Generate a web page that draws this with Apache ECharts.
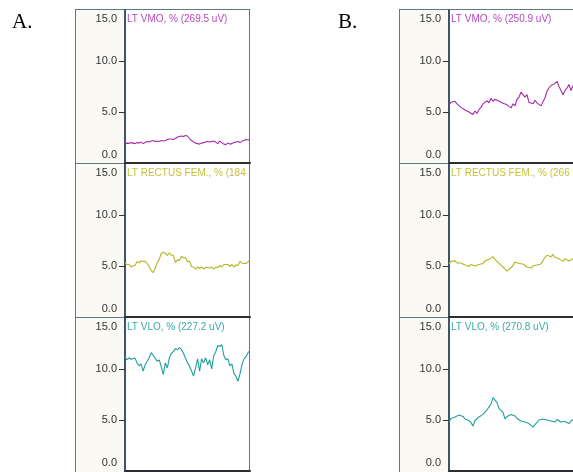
<!DOCTYPE html>
<html>
<head>
<meta charset="utf-8">
<script src="https://cdn.jsdelivr.net/npm/echarts@6/dist/echarts.min.js"></script>
<style>
html,body{margin:0;padding:0;background:#fff;}
#chart{width:573px;height:472px;}
</style>
</head>
<body>
<div id="chart"></div>
<script>
// ---- data (percent of reference) ----
var panelLabels = ['A.', 'B.'];
var yTicks = [0, 5, 10, 15];
var titlesA = ['LT VMO, % (269.5 uV)', 'LT RECTUS FEM., % (184', 'LT VLO, % (227.2 uV)'];
var titlesB = ['LT VMO, % (250.9 uV)', 'LT RECTUS FEM., % (266', 'LT VLO, % (270.8 uV)'];

var a_vmo = [1.9,1.95,1.92,2.0,1.95,1.9,2.0,1.95,2.05,1.9,
  2.0,2.1,2.05,2.15,2.2,2.1,2.15,2.1,2.2,2.15,
  2.2,2.3,2.35,2.35,2.3,2.4,2.55,2.6,2.65,2.6,
  2.7,2.65,2.4,2.2,2.05,1.95,1.9,1.85,1.95,2.0,
  2.05,2.1,2.05,2.1,2.15,2.05,1.9,2.15,2.0,1.85,
  1.8,1.95,1.85,1.9,2.0,2.05,2.1,2.0,2.15,2.2,
  2.3,2.25,2.3];
var a_rf = [5.3,5.15,5.15,4.9,5.05,5.05,5.45,5.3,5.5,5.45,
  5.45,5.25,4.95,4.55,4.35,4.75,5.35,5.65,6.25,6.35,
  6.25,6.05,6.3,6.05,6.05,5.35,5.6,5.55,5.95,5.8,
  5.8,5.45,5.45,4.95,4.9,4.7,4.9,4.75,4.9,4.7,
  4.85,4.85,4.8,4.9,4.7,4.9,4.85,5.05,4.9,5.15,
  5.15,5.15,4.95,5.15,4.9,5.1,5.05,5.45,5.3,5.25,
  5.25,5.4,5.6];
var a_vlo = [11.2,10.9,11.1,10.95,11.0,11.05,10.6,10.3,10.5,9.8,
  10.4,10.75,11.1,11.6,11.35,11.05,10.75,10.9,10.2,9.45,
  10.6,10.1,11.1,11.55,11.7,12.0,11.9,12.1,11.9,11.55,
  11.05,10.6,10.3,9.8,9.3,10.1,11.0,9.8,11.0,10.6,
  11.1,10.4,10.9,10.0,11.3,11.7,12.3,12.2,12.4,11.35,
  10.9,11.0,10.3,10.5,9.6,9.3,8.8,9.5,10.4,11.0,
  11.2,11.6,11.8];
var b_vmo = [5.7,5.95,5.85,6.05,5.8,5.75,5.45,5.4,5.2,5.25,
  5.0,4.95,4.75,5.1,4.85,5.25,5.45,5.8,5.85,6.1,
  5.9,6.35,6.05,6.25,6.3,6.05,6.1,5.85,5.95,5.7,
  5.65,5.4,5.8,5.6,6.25,6.45,6.95,6.7,6.45,6.7,
  5.95,6.0,5.8,6.15,5.9,6.0,5.6,5.45,6.4,7.05,
  7.35,7.6,7.5,7.8,8.0,7.5,7.1,6.7,7.1,7.35,
  7.7,7.1,7.6];
var b_rf = [5.2,5.45,5.45,5.5,5.3,5.35,5.3,5.25,5.1,5.1,
  4.95,5.15,5.15,5.0,5.15,5.15,5.3,5.25,5.5,5.45,
  5.65,5.7,5.9,5.65,5.6,5.25,5.15,4.9,4.75,4.5,
  4.45,4.85,5.05,5.4,5.25,5.25,5.3,5.2,5.1,4.9,
  4.95,4.8,5.0,5.05,5.1,4.95,5.2,5.25,5.85,6.05,
  6.05,5.9,6.15,5.85,5.9,5.7,5.65,5.45,5.7,5.55,
  5.5,5.45,5.7];
var b_vlo = [4.8,5.15,5.1,5.3,5.25,5.5,5.4,5.35,5.1,5.15,
  4.95,4.75,4.4,4.95,5.1,5.3,5.25,5.55,5.65,6.0,
  6.15,6.55,7.2,6.95,6.7,6.15,6.0,5.75,5.1,5.35,
  5.45,5.55,5.4,5.4,5.15,5.2,4.9,4.95,4.8,4.85,
  4.65,4.55,4.3,4.55,4.7,5.0,4.95,5.1,5.05,5.0,
  5.1,4.9,4.95,4.8,5.05,5.0,4.8,4.9,4.85,4.9,
  4.65,4.9,5.05];

var seriesColors = ['#a52aa8', '#b5b520', '#1f9f9a'];
var titleColors = ['#b347c0', '#c2c23a', '#3aa9a9'];

// ---- layout ----
var panels = [
  {x0: 75, xa: 125, xr: 250, label: panelLabels[0], labelX: 12, titles: titlesA, data: [a_vmo, a_rf, a_vlo]},
  {x0: 399, xa: 449, xr: 574, label: panelLabels[1], labelX: 338, titles: titlesB, data: [b_vmo, b_rf, b_vlo]}
];
var tops = [10, 164, 318];
var H = 153;

var grids = [], xAxes = [], yAxes = [], series = [], titles = [], graphics = [];
var idx = 0;
panels.forEach(function (p) {
  var n = p.data[0].length;
  var cats = [];
  for (var i = 0; i < n; i++) cats.push(i);
  graphics.push({type: 'rect', z: -10, shape: {x: p.x0, y: 9, width: p.xa - p.x0, height: 463}, style: {fill: '#fbf9f3'}});
  graphics.push({type: 'line', shape: {x1: p.x0 + 0.5, y1: 9, x2: p.x0 + 0.5, y2: 472}, style: {stroke: '#5d7888', lineWidth: 1}});
  graphics.push({type: 'line', shape: {x1: p.x0, y1: 9.5, x2: p.xr, y2: 9.5}, style: {stroke: '#5d7888', lineWidth: 1}});
  graphics.push({type: 'line', shape: {x1: p.xr - 0.5, y1: 9, x2: p.xr - 0.5, y2: 472}, style: {stroke: '#5d7888', lineWidth: 1}});
  [163.5, 317.5].forEach(function (yy) {
    graphics.push({type: 'line', shape: {x1: p.x0, y1: yy, x2: p.xa, y2: yy}, style: {stroke: '#5d7888', lineWidth: 1}});
  });
  graphics.push({type: 'text', style: {x: p.labelX, y: 12, text: p.label, font: '21px "Liberation Serif", "Times New Roman", serif', fill: '#000'}});

  for (var k = 0; k < 3; k++) {
    grids.push({left: p.xa, top: tops[k], width: p.xr - p.xa, height: H});
    xAxes.push({
      gridIndex: idx, type: 'category', data: cats, boundaryGap: false,
      axisLine: {show: true, lineStyle: {color: '#2b2f33', width: 2}},
      axisTick: {show: false}, axisLabel: {show: false}, splitLine: {show: false}
    });
    yAxes.push({
      gridIndex: idx, type: 'value', min: 0, max: 15, interval: 5,
      axisLine: {show: true, lineStyle: {color: '#3b5668', width: 2}},
      axisTick: {show: true, length: 6, lineStyle: {color: '#333', width: 1}, customValues: [5, 10]},
      axisLabel: {
        show: true, margin: 8, color: '#333', fontSize: 11,
        fontFamily: '"Liberation Sans", Arial, sans-serif',
        customValues: yTicks,
        formatter: function (v) { return v.toFixed(1); },
        padding: [3, 0, 3, 0],
        verticalAlignMinLabel: 'bottom', verticalAlignMaxLabel: 'top'
      },
      splitLine: {show: false}
    });
    series.push({
      type: 'line', xAxisIndex: idx, yAxisIndex: idx, data: p.data[k],
      showSymbol: false, symbol: 'none', smooth: false,
      lineStyle: {color: seriesColors[k], width: 1.1}, animation: false
    });
    titles.push({
      text: p.titles[k], left: p.xa + 2, top: tops[k] + 4, padding: 0,
      textStyle: {color: titleColors[k], fontSize: 10, fontWeight: 'normal', fontFamily: '"Liberation Sans", Arial, sans-serif'}
    });
    idx++;
  }
});

var chart = echarts.init(document.getElementById('chart'), null, {renderer: 'canvas'});
chart.setOption({
  animation: false,
  backgroundColor: '#ffffff',
  title: titles,
  grid: grids,
  xAxis: xAxes,
  yAxis: yAxes,
  series: series,
  graphic: {elements: graphics}
});
</script>
</body>
</html>
